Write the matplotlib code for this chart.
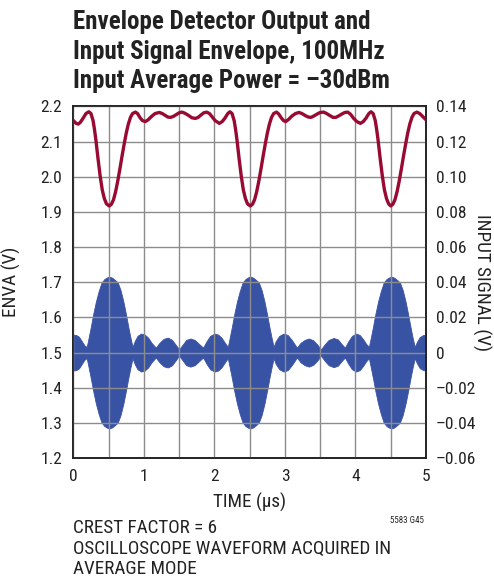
import numpy as np
import matplotlib.pyplot as plt

# envelope detector output (left axis, V)
enva_t = [0.00, 0.04, 0.07, 0.10, 0.14, 0.18, 0.22, 0.25, 0.28, 0.30, 0.32, 0.35, 0.38, 0.41, 0.44, 0.47, 0.51,
          0.54, 0.57, 0.60, 0.63, 0.66, 0.69, 0.72, 0.75, 0.78, 0.81, 0.84, 0.88,
          0.91, 0.95, 0.98, 1.02, 1.06, 1.11, 1.16, 1.22, 1.26, 1.30, 1.34, 1.38, 1.42,
          1.46, 1.50, 1.54, 1.58, 1.63, 1.68, 1.73, 1.77, 1.81, 1.85, 1.89, 1.93, 1.97, 2.01,
          2.07, 2.11, 2.15, 2.19, 2.22, 2.25, 2.28, 2.30, 2.32, 2.35, 2.38, 2.41, 2.44, 2.47, 2.51,
          2.54, 2.57, 2.60, 2.63, 2.66, 2.69, 2.72, 2.75, 2.78, 2.81, 2.84, 2.88,
          2.91, 2.95, 2.98, 3.01, 3.05, 3.10, 3.15, 3.20, 3.24, 3.29, 3.33, 3.37, 3.41,
          3.46, 3.50, 3.55, 3.59, 3.64, 3.68, 3.72, 3.76, 3.81, 3.85, 3.89, 3.93, 3.97, 4.02,
          4.07, 4.11, 4.15, 4.19, 4.22, 4.25, 4.28, 4.30, 4.32, 4.35, 4.38, 4.41, 4.44, 4.47, 4.50,
          4.53, 4.56, 4.59, 4.62, 4.65, 4.68, 4.71, 4.74, 4.77, 4.80, 4.83, 4.87,
          4.91, 4.95, 5.00]
enva_v = [2.160, 2.152, 2.150, 2.155, 2.167, 2.180, 2.185, 2.180, 2.160, 2.135, 2.105, 2.052, 2.003, 1.963, 1.938, 1.923, 1.917,
          1.922, 1.935, 1.958, 1.988, 2.022, 2.058, 2.092, 2.124, 2.150, 2.169, 2.180, 2.184,
          2.180, 2.167, 2.160, 2.157, 2.162, 2.172, 2.180, 2.183, 2.180, 2.175, 2.170, 2.169, 2.172,
          2.177, 2.182, 2.184, 2.181, 2.175, 2.168, 2.166, 2.169, 2.176, 2.182, 2.184, 2.180, 2.170, 2.160,
          2.152, 2.157, 2.167, 2.180, 2.185, 2.180, 2.160, 2.135, 2.105, 2.052, 2.003, 1.963, 1.938, 1.923, 1.917,
          1.922, 1.935, 1.958, 1.988, 2.022, 2.058, 2.092, 2.124, 2.150, 2.169, 2.180, 2.184,
          2.179, 2.167, 2.160, 2.157, 2.163, 2.173, 2.180, 2.183, 2.180, 2.174, 2.170, 2.169, 2.173,
          2.179, 2.183, 2.184, 2.180, 2.174, 2.169, 2.169, 2.173, 2.179, 2.183, 2.184, 2.178, 2.167, 2.157,
          2.152, 2.157, 2.167, 2.180, 2.185, 2.180, 2.160, 2.135, 2.105, 2.052, 2.003, 1.963, 1.938, 1.923, 1.917,
          1.922, 1.935, 1.958, 1.988, 2.022, 2.058, 2.092, 2.124, 2.150, 2.169, 2.180, 2.184,
          2.180, 2.172, 2.162]

# input signal envelope amplitude (right axis, V); carrier fills between +/- envelope
sig_t = [0.00, 0.04, 0.08, 0.12, 0.16, 0.19, 0.21, 0.25, 0.28, 0.32, 0.36, 0.40, 0.44, 0.48,
         0.51, 0.55, 0.59, 0.63, 0.67, 0.71, 0.75, 0.78, 0.81, 0.84, 0.87, 0.91, 0.96, 1.01,
         1.06, 1.11, 1.17, 1.22, 1.28, 1.34, 1.40, 1.45, 1.50, 1.55, 1.60, 1.66, 1.72, 1.78,
         1.84, 1.89, 1.94, 2.00, 2.05, 2.10, 2.15, 2.19, 2.21, 2.25, 2.28, 2.32, 2.36, 2.40,
         2.44, 2.48, 2.51, 2.55, 2.59, 2.63, 2.67, 2.71, 2.75, 2.78, 2.81, 2.84, 2.87, 2.92,
         2.98, 3.04, 3.10, 3.17, 3.22, 3.28, 3.34, 3.40, 3.46, 3.51, 3.56, 3.62, 3.69, 3.75,
         3.80, 3.85, 3.90, 3.95, 4.01, 4.06, 4.11, 4.15, 4.19, 4.21, 4.25, 4.28, 4.32, 4.36,
         4.40, 4.44, 4.48, 4.51, 4.55, 4.59, 4.63, 4.67, 4.71, 4.75, 4.78, 4.81, 4.84, 4.87,
         4.91, 4.96, 5.00]
sig_env = [0.0102, 0.0100, 0.0090, 0.0065, 0.0040, 0.0032, 0.0070, 0.0150, 0.0215, 0.0290, 0.0350, 0.0398, 0.0418, 0.0428,
           0.0432, 0.0426, 0.0413, 0.0398, 0.0355, 0.0290, 0.0210, 0.0145, 0.0085, 0.0032, 0.0065, 0.0095, 0.0108, 0.0103,
           0.0085, 0.0055, 0.0028, 0.0055, 0.0078, 0.0085, 0.0072, 0.0045, 0.0018, 0.0045, 0.0072, 0.0080, 0.0072, 0.0050,
           0.0028, 0.0065, 0.0095, 0.0108, 0.0103, 0.0085, 0.0055, 0.0032, 0.0070, 0.0150, 0.0215, 0.0290, 0.0350, 0.0398,
           0.0418, 0.0428, 0.0432, 0.0426, 0.0413, 0.0398, 0.0355, 0.0290, 0.0210, 0.0145, 0.0085, 0.0032, 0.0065, 0.0095,
           0.0108, 0.0100, 0.0070, 0.0028, 0.0055, 0.0072, 0.0080, 0.0070, 0.0045, 0.0018, 0.0045, 0.0072, 0.0083, 0.0075,
           0.0050, 0.0028, 0.0065, 0.0095, 0.0108, 0.0100, 0.0075, 0.0050, 0.0032, 0.0070, 0.0150, 0.0215, 0.0290, 0.0350,
           0.0398, 0.0418, 0.0428, 0.0432, 0.0426, 0.0413, 0.0398, 0.0355, 0.0290, 0.0210, 0.0145, 0.0085, 0.0032, 0.0060,
           0.0088, 0.0100, 0.0102]

left_ticks = [1.2, 1.3, 1.4, 1.5, 1.6, 1.7, 1.8, 1.9, 2.0, 2.1, 2.2]
right_ticks = [-0.06, -0.04, -0.02, 0, 0.02, 0.04, 0.06, 0.08, 0.10, 0.12, 0.14]
right_labels = ["–0.06", "–0.04", "–0.02", "0", "0.02", "0.04", "0.06", "0.08", "0.10", "0.12", "0.14"]
time_ticks = [0, 1, 2, 3, 4, 5]

RED = "#990a33"
BLUE = "#3953a4"
INK = "#222222"

plt.rcParams["font.family"] = ["Roboto Condensed", "DejaVu Sans"]

fig = plt.figure(figsize=(4.94, 5.80), dpi=100)
ax = fig.add_axes([0.1484, 0.2103, 0.7140, 0.6061])
ax2 = ax.twinx()

ax.set_xlim(0, 5)
ax.set_ylim(1.2, 2.2)
ax2.set_ylim(-0.06, 0.14)

ax.set_xticks(time_ticks)
ax.set_xticks(np.arange(0, 5.01, 0.5), minor=True)
ax.set_yticks(left_ticks)
ax.set_yticklabels([f"{v:.1f}" for v in left_ticks])
ax2.set_yticks(right_ticks)
ax2.set_yticklabels(right_labels)

ax.grid(True, which="both", color="#8c8c8c", linewidth=1.0)
ax.set_axisbelow(True)
ax.tick_params(which="both", length=0, labelsize=12.5, colors=INK)
ax.tick_params(axis="y", pad=8)
ax.tick_params(axis="x", pad=8)
ax2.tick_params(length=0, labelsize=12.5, pad=7, colors=INK)
for a in (ax, ax2):
    for s in a.spines.values():
        s.set_color(INK)
        s.set_linewidth(1.2)

ax2.fill_between(sig_t, [-v for v in sig_env], sig_env, color=BLUE, linewidth=0.6,
                 edgecolor=BLUE)
ax.plot(enva_t, enva_v, color=RED, linewidth=2.4, solid_capstyle="round", zorder=5)
ax.set_zorder(ax2.get_zorder() + 1)
ax.patch.set_visible(False)

ax.set_xlabel("TIME (µs)", fontsize=13.8, color=INK)
ax.xaxis.set_label_coords(0.5, -0.1)
ax.set_ylabel("ENVA (V)", fontsize=13.8, color=INK)
ax.yaxis.set_label_coords(-0.148, 0.5)
ax2.set_ylabel("INPUT SIGNAL (V)", fontsize=13.8, rotation=-90, va="center", color=INK)
ax2.yaxis.set_label_coords(1.158, 0.5)

titles = ["Envelope Detector Output and",
          "Input Signal Envelope, 100MHz",
          "Input Average Power = –30dBm"]
for i, line in enumerate(titles):
    fig.text(0.147, 1 - (29.3 + 29.2 * i) / 580, line, fontsize=18, fontweight="bold",
             va="baseline", ha="left", color=INK)

notes = ["CREST FACTOR = 6", "OSCILLOSCOPE WAVEFORM ACQUIRED IN", "AVERAGE MODE"]
for i, line in enumerate(notes):
    fig.text(0.147, 1 - (533.3 + 20.4 * i) / 580, line, fontsize=13.8, va="baseline", ha="left",
             color=INK)
fig.text(424 / 494, 1 - 523 / 580, "5583 G45", fontsize=6.5, va="baseline", ha="right",
         color=INK)

fig.savefig("out.png", dpi=100)
